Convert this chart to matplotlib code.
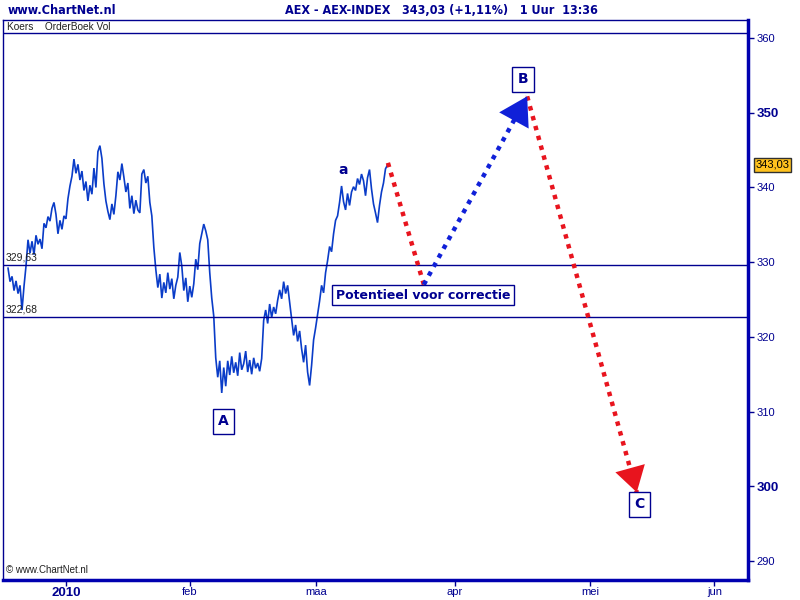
import numpy as np
import matplotlib.pyplot as plt

# hourly AEX closes (one value every ~1/3 trading day)
prices = [
    329.2, 327.4, 328.1, 326.2, 327.5, 325.8, 326.9, 323.6, 326.8,
    329.5, 333.0, 331.2, 332.8, 331.0, 333.6, 332.4, 333.1,
    331.8, 335.2, 334.6, 336.1, 335.5, 337.2, 338.0, 336.4,
    333.8, 335.6, 334.4, 336.2, 335.8,
    338.5, 340.2, 341.5,
    343.8, 341.9, 343.1, 341.0,
    342.2, 339.6, 340.8, 338.2, 340.3, 339.1,
    342.6, 340.0, 344.8, 345.6,
    343.9, 340.5, 338.2, 336.8, 335.7,
    337.8, 336.4, 338.9,
    342.1, 341.0, 343.2, 341.4,
    339.4, 340.6, 337.2, 338.9, 336.5, 338.3, 337.0, 336.6,
    341.8, 342.4, 340.6, 341.5,
    338.0, 336.2,
    332.0, 329.0, 326.6,
    328.4, 325.2, 327.3, 325.9, 328.6, 326.4, 327.8, 325.1, 326.9, 328.0,
    331.3, 329.5,
    326.2, 327.9, 324.7, 326.8, 325.3,
    327.1, 330.4, 329.0,
    332.5, 333.8, 335.1, 334.2,
    333.0, 328.6, 325.2, 322.8,
    317.2, 314.6,
    316.8, 312.5, 315.9, 313.4,
    316.8, 314.9, 317.4, 315.2, 316.6, 314.8, 317.9, 315.6, 316.4, 318.1,
    315.3, 316.9, 315.0, 317.2, 315.8, 316.5, 315.4, 317.1,
    322.2, 323.6, 321.8, 324.4, 322.6, 324.0, 323.1, 324.9,
    326.3, 325.1, 327.4, 325.8, 326.9, 324.6,
    322.4, 320.2, 321.6, 319.4, 320.8,
    318.4, 316.6, 318.9, 315.3, 313.5, 316.2,
    319.6, 321.2, 323.0,
    324.8, 326.9, 325.9, 328.6,
    330.2, 332.1, 331.4, 333.8, 335.6,
    336.2, 338.0, 340.2,
    338.1, 337.0, 339.2, 337.6,
    339.4, 340.1, 339.6, 341.2, 340.4, 341.8, 340.9,
    338.9, 341.3, 342.4, 339.8,
    337.8, 336.6, 335.3, 337.6,
    339.4, 340.6, 342.5, 343.0,
]
series_start = 0.8   # trading days from left edge
series_step = 0.317

# month ticks (trading-day positions)
month_pos = [10.0, 29.7, 49.7, 71.7, 93.2, 112.9]
month_labels = ['2010', 'feb', 'maa', 'apr', 'mei', 'jun']

# support levels
levels = [329.63, 322.68]
level_labels = ['329,63', '322,68']

# projected wave: end of data -> dip -> B -> C
wave_x = [61.1, 66.8, 83.2, 100.6]
wave_y = [343.3, 327.0, 352.2, 299.2]

last_price = 343.03

navy = '#000090'
line_blue = '#0A3CC8'

fig = plt.figure(figsize=(8, 6), dpi=100)
fig.patch.set_facecolor('white')
ax = fig.add_axes([3 / 800, 20 / 600, 745 / 800, 560 / 600])
ax.set_xlim(0, 745 / 6.3)
ax.set_ylim(287.46, 362.42)

x = series_start + np.arange(len(prices)) * series_step
ax.plot(x, prices, color=line_blue, lw=1.2, solid_joinstyle='miter')

for lv, lab in zip(levels, level_labels):
    ax.axhline(lv, color=navy, lw=1)
    ax.text(0.004, lv + 0.35, lab, transform=ax.get_yaxis_transform(),
            fontsize=7.5, color='#202020', va='bottom', ha='left',
            family='Liberation Sans')

# top strip
ax.axhline(360.67, color=navy, lw=1)
ax.text(0.005, 361.5, 'Koers    OrderBoek Vol', transform=ax.get_yaxis_transform(),
        fontsize=7.3, color='#202020', va='center', family='Liberation Sans')

# dotted wave segments
dot = dict(lw=3.2, linestyle=(0, (1, 1.3)), solid_capstyle='butt', dash_capstyle='butt')
ax.plot(wave_x[0:2], wave_y[0:2], color='#E8141E', **dot)
ax.plot(wave_x[1:3], wave_y[1:3], color='#1020D8', **dot)
ax.plot(wave_x[2:4], wave_y[2:4], color='#E8141E', **dot)


def head(x0, y0, x1, y1, color, size):
    ax.annotate('', xy=(x1, y1), xytext=(x1 - (x1 - x0) * 0.06, y1 - (y1 - y0) * 0.06),
                arrowprops=dict(arrowstyle='-|>,head_length=0.9,head_width=0.55',
                                mutation_scale=size, color=color, lw=0,
                                shrinkA=0, shrinkB=0))


head(wave_x[1], wave_y[1], wave_x[2], wave_y[2], '#1020D8', 22)
head(wave_x[2], wave_y[2], wave_x[3], wave_y[3], '#E8141E', 20)

# labels
box = dict(boxstyle='square,pad=0.4', fc='white', ec=navy, lw=1)
ax.text(35.0, 308.7, 'A', fontsize=10, fontweight='bold', color=navy,
        ha='center', va='center', bbox=box)
ax.text(82.5, 354.5, 'B', fontsize=10, fontweight='bold', color=navy,
        ha='center', va='center', bbox=box)
ax.text(101.0, 297.6, 'C', fontsize=10, fontweight='bold', color=navy,
        ha='center', va='center', bbox=box)
ax.text(54.0, 342.3, 'a', fontsize=10, fontweight='bold', color=navy,
        ha='center', va='center')
ax.text(66.7, 325.6, 'Potentieel voor correctie', fontsize=9, fontweight='bold',
        color=navy, ha='center', va='center',
        bbox=dict(boxstyle='square,pad=0.3', fc='white', ec=navy, lw=1))
ax.text(0.004, 0.012, '© www.ChartNet.nl', transform=ax.transAxes,
        fontsize=7, color='#202020', family='Liberation Sans')

# last price tag
ax.text(1.01, last_price, '343,03', transform=ax.get_yaxis_transform(),
        fontsize=8, color='black', va='center', ha='left', family='Liberation Sans',
        bbox=dict(boxstyle='square,pad=0.15', fc='#FFC21E', ec='#303030', lw=1))

# axes styling
for side in ['left', 'top']:
    ax.spines[side].set_color(navy)
    ax.spines[side].set_linewidth(1)
for side in ['right', 'bottom']:
    ax.spines[side].set_color('#0000B0')
    ax.spines[side].set_linewidth(2.5)

ax.yaxis.tick_right()
yt = list(range(290, 361, 10))
ax.set_yticks(yt)
ax.set_yticklabels([str(v) for v in yt])
for v, lab in zip(yt, ax.get_yticklabels()):
    lab.set_family('Liberation Sans')
    lab.set_color(navy)
    if v in (300, 350):
        lab.set_fontweight('bold')
        lab.set_fontsize(9.5)
    else:
        lab.set_fontsize(8)
ax.tick_params(axis='y', direction='out', length=4, width=1, color=navy, pad=2)

ax.set_xticks(month_pos)
ax.set_xticklabels(month_labels)
for i, lab in enumerate(ax.get_xticklabels()):
    lab.set_family('Liberation Sans')
    lab.set_color(navy)
    if i == 0:
        lab.set_fontweight('bold')
        lab.set_fontsize(9.5)
    else:
        lab.set_fontsize(8)
ax.tick_params(axis='x', direction='out', length=4, width=1, color=navy, pad=1)

# header
fig.text(8 / 800, 1 - 10 / 600, 'www.ChartNet.nl', fontsize=9, fontweight='bold',
         color=navy, va='center', ha='left', family='DejaVu Sans', stretch='condensed')
fig.text(441 / 800, 1 - 10 / 600, 'AEX - AEX-INDEX   343,03 (+1,11%)   1 Uur  13:36',
         fontsize=9, fontweight='bold', color=navy, va='center', ha='center',
         family='DejaVu Sans', stretch='condensed')

fig.savefig('out.png', dpi=100)
